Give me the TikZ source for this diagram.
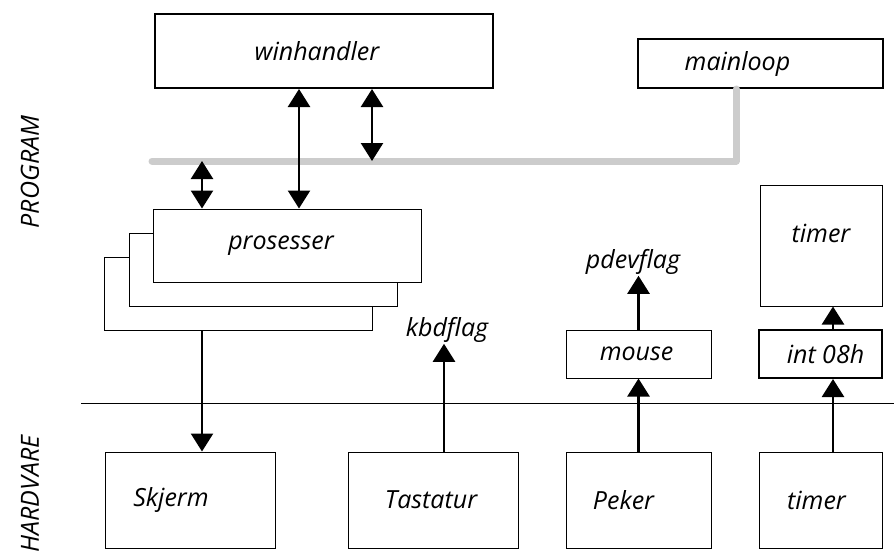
\documentclass[tikz,border=0pt]{standalone}
\usepackage{fontspec}
\setmainfont{Open Sans}
\usetikzlibrary{arrows.meta}

\tikzset{
  box/.style={draw, line width=1pt, fill=white, inner sep=0pt},
  thickbox/.style={box, line width=2pt},
  txt/.style={inner sep=1pt},
  arr/.style={line width=2.5pt, -{Triangle[width=22pt,length=18pt]}},
  dblarr/.style={line width=2.5pt, {Triangle[width=22pt,length=18pt]}-{Triangle[width=22pt,length=18pt]}},
  bus/.style={line width=7pt, color=black!20, line cap=round, line join=round},
}

\begin{document}
\begin{tikzpicture}[x=1pt, y=-1pt, font=\fontsize{25}{28}\selectfont\itshape]
  \useasboundingbox (0,0) rectangle (894,554);

  % program side
  \node[thickbox, minimum width=338pt, minimum height=74pt,
        label={[xshift=-7pt]center:winhandler}] (winhandler) at (324,51) {};
  \node[thickbox, minimum width=245pt, minimum height=49pt,
        label={[xshift=-23pt]center:mainloop}] (mainloop) at (760.5,63.5) {};

  \node[box, minimum width=268pt, minimum height=73pt] (proc3) at (238.5,294) {};
  \node[box, minimum width=268pt, minimum height=73pt] (proc2) at (263,269.5) {};
  \node[box, minimum width=268pt, minimum height=73pt,
        label={[xshift=-6pt]center:prosesser}] (proc1) at (287,245.5) {};

  \node[box, minimum width=122pt, minimum height=121pt,
        label={[yshift=12pt]center:timer}] (timer) at (821,245.5) {};
  \node[thickbox, minimum width=123pt, minimum height=48pt,
        label={[xshift=5pt]center:int 08h}] (int08h) at (820.5,354) {};
  \node[box, minimum width=145pt, minimum height=48pt,
        label={[xshift=-2pt]center:mouse}] (mouse) at (638.5,354) {};

  \node[txt] (pdevflag) at (633,262) {pdevflag};
  \node[txt] (kbdflag) at (447,330) {kbdflag};

  % hardware side
  \node[box, minimum width=170pt, minimum height=96pt,
        label={[xshift=-19pt]center:Skjerm}] (skjerm) at (190,500) {};
  \node[box, minimum width=170pt, minimum height=96pt,
        label={[xshift=-2pt]center:Tastatur}] (tastatur) at (433,500) {};
  \node[box, minimum width=145pt, minimum height=96pt,
        label={[xshift=-15pt]center:Peker}] (peker) at (638.5,500) {};
  \node[box, minimum width=123pt, minimum height=96pt,
        label={[xshift=-4pt]center:timer}] (hwtimer) at (820.5,500) {};

  \node[rotate=90] (program) at (30,172) {PROGRAM};
  \node[rotate=90] (hardvare) at (30,494) {HARDVARE};

  % bus and dividing line
  \coordinate (busleft) at (152,161);
  \coordinate (busright) at (736,161);
  \draw[bus] (busleft) -- (busright) -- (busright |- mainloop.south);

  \coordinate (sepleft) at (81,403);
  \coordinate (sepright) at (894,403);
  \draw[line width=0.8pt] (sepleft) -- (sepright);

  % connectors
  \draw[dblarr] ([xshift=-25pt]winhandler.south) -- ([xshift=12pt]proc1.north);
  \draw[dblarr] ([xshift=48pt]winhandler.south) -- ([xshift=48pt]winhandler.south |- busleft);
  \draw[dblarr] ([xshift=-85pt]proc1.north |- busleft) -- ([xshift=-85pt]proc1.north);
  \draw[arr] ([xshift=-36.5pt]proc3.south) -- ([xshift=-36.5pt]proc3.south |- skjerm.north);
  \draw[arr] ([xshift=11pt]tastatur.north) -- ([xshift=11pt]tastatur.north |- kbdflag.south);
  \draw[arr] (peker.north) -- (mouse.south);
  \draw[arr] (mouse.north) -- (mouse.north |- pdevflag.south);
  \draw[arr] ([xshift=12.5pt]hwtimer.north) -- ([xshift=12.5pt]int08h.south);
  \draw[arr] ([xshift=12.5pt]int08h.north) -- ([xshift=12pt]timer.south);
\end{tikzpicture}
\end{document}
